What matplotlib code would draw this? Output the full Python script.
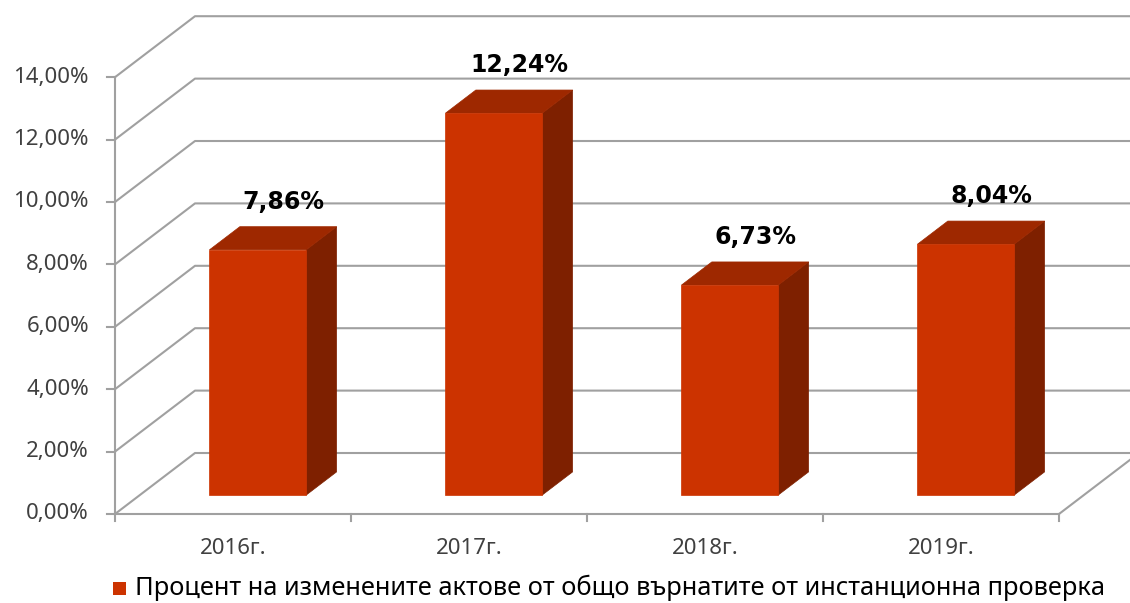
import matplotlib
matplotlib.use("Agg")
import matplotlib.pyplot as plt
from matplotlib.patches import Polygon, Rectangle

# data
years = ["2016г.", "2017г.", "2018г.", "2019г."]
values = [7.86, 12.24, 6.73, 8.04]
value_labels = ["7,86%", "12,24%", "6,73%", "8,04%"]
yticks = [0, 2, 4, 6, 8, 10, 12, 14]
ytick_labels = ["0,00%", "2,00%", "4,00%", "6,00%", "8,00%", "10,00%", "12,00%", "14,00%"]
legend_label = "Процент на изменените актове от общо върнатите от инстанционна проверка"

# fake 3d geometry (depth offset of the back wall in data units)
DX = 0.339   # category units
DY = 1.955   # percent units
BAR_W = 0.41
D0, D1 = 0.31, 0.69

FRONT = "#CC3300"
TOP = "#9E2800"
SIDE = "#7E2000"
GRID = "#A0A0A0"
TXT = "#404040"


def proj(x, v, d):
    return (x + d * DX, v + d * DY)


fig = plt.figure(figsize=(11.3, 6.03), dpi=100)
ax = fig.add_axes([0, 0, 1, 1])
ax.set_xlim(-115 / 236, (1130 - 115) / 236)
ax.set_ylim(-89 / 31.2, (603 - 89) / 31.2)
ax.axis("off")

n = len(years)

# back wall gridlines with diagonal on the side wall
for t in yticks:
    xs = [0, DX, n + DX]
    ys = [t, t + DY, t + DY]
    ax.plot(xs, ys, color=GRID, lw=1.5, zorder=1, solid_capstyle="butt")

# floor front edge and right edge
ax.plot([0, n], [0, 0], color=GRID, lw=1.5, zorder=1)
ax.plot([n, n + DX], [0, DY], color=GRID, lw=1.5, zorder=1)

# y axis and ticks
ax.plot([0, 0], [0, yticks[-1]], color=GRID, lw=1.5, zorder=2)
for t, lab in zip(yticks, ytick_labels):
    ax.plot([-8 / 236, 0], [t, t], color=GRID, lw=1.5, zorder=2)
    ax.text(-26 / 236, t, lab, ha="right", va="center", fontsize=16,
            color=TXT, family="Noto Sans")

# category ticks below the floor
for i in range(n + 1):
    ax.plot([i, i], [0, -7 / 31.2], color=GRID, lw=1.5, zorder=2)

for i, lab in enumerate(years):
    ax.text(i + 0.5, -34 / 31.2, lab, ha="center", va="center", fontsize=16,
            color=TXT, family="Noto Sans")

# bars
for i, (v, lab) in enumerate(zip(values, value_labels)):
    x0 = i + 0.5 - BAR_W / 2
    x1 = i + 0.5 + BAR_W / 2
    front = [proj(x0, 0, D0), proj(x1, 0, D0), proj(x1, v, D0), proj(x0, v, D0)]
    top = [proj(x0, v, D0), proj(x1, v, D0), proj(x1, v, D1), proj(x0, v, D1)]
    side = [proj(x1, 0, D0), proj(x1, 0, D1), proj(x1, v, D1), proj(x1, v, D0)]
    for pts, c in [(side, SIDE), (top, TOP), (front, FRONT)]:
        ax.add_patch(Polygon(pts, closed=True, facecolor=c, edgecolor=c,
                             lw=0.5, zorder=3))
    lx, ly = proj(i + 0.5, v, D1)
    ax.text(lx - 5 / 236, ly + 13 / 31.2, lab, ha="center", va="bottom",
            fontsize=17, fontweight="bold", color="black", family="DejaVu Sans",
            zorder=4)

# legend
ax.add_patch(Rectangle((-2 / 236, -81 / 31.2), 13 / 236, 13 / 31.2,
                       facecolor=FRONT, edgecolor="none"))
ax.text(20 / 236, -74 / 31.2, legend_label, ha="left", va="center",
        fontsize=18.3, color="black", family="Noto Sans")

fig.savefig("out.png", dpi=100)
